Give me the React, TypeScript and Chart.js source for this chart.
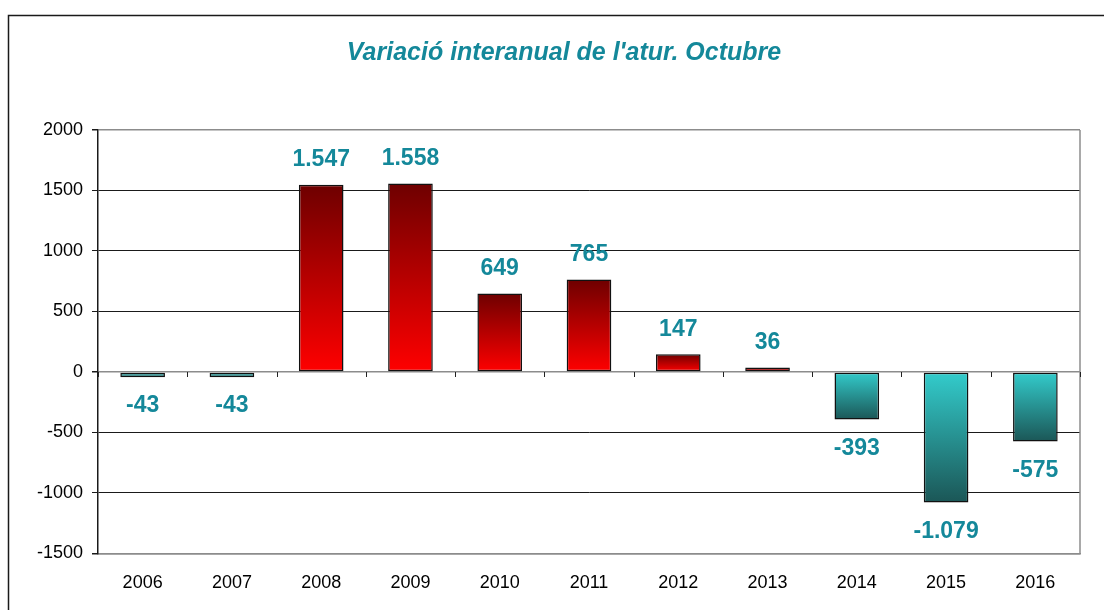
import React, { useEffect, useRef } from "react";
import { Chart, registerables } from "chart.js";

Chart.register(...registerables);

const categories = ["2006", "2007", "2008", "2009", "2010", "2011", "2012", "2013", "2014", "2015", "2016"];
const values = [-43, -43, 1547, 1558, 649, 765, 147, 36, -393, -1079, -575];
const yMin = -1500;
const yMax = 2000;
const yStep = 500;
const titleText = "Variació interanual de l'atur. Octubre";

const FONT = "'Liberation Sans', Arial, Helvetica, sans-serif";
const TEAL = "#14889a";

function fmt(v: number): string {
  const neg = v < 0;
  const s = Math.abs(v).toString();
  let out = "";
  for (let i = 0; i < s.length; i++) {
    const fromEnd = s.length - i;
    out += s[i];
    if (fromEnd > 1 && (fromEnd - 1) % 3 === 0) out += ".";
  }
  return (neg ? "-" : "") + out;
}

const decorPlugin = {
  id: "decor",
  beforeDraw(chart: any) {
    const c = chart.ctx;
    c.save();
    c.fillStyle = "#ffffff";
    c.fillRect(0, 0, chart.width, chart.height);
    c.strokeStyle = "#1a1a1a";
    c.lineWidth = 1.5;
    c.beginPath();
    c.moveTo(8.5, chart.height + 2);
    c.lineTo(8.5, 15.5);
    c.lineTo(chart.width + 2, 15.5);
    c.stroke();
    c.fillStyle = TEAL;
    c.font = `italic bold 25px ${FONT}`;
    c.textAlign = "center";
    c.textBaseline = "alphabetic";
    c.fillText(titleText, 564, 60);
    c.restore();
  },
  afterDraw(chart: any) {
    const c = chart.ctx;
    const a = chart.chartArea;
    const x = chart.scales.x;
    const y = chart.scales.y;
    c.save();
    c.strokeStyle = "#8c8c8c";
    c.lineWidth = 1.5;
    c.beginPath();
    c.moveTo(a.right, a.top);
    c.lineTo(a.right, a.bottom);
    c.stroke();
    const y0 = Math.round(y.getPixelForValue(0));
    const n = categories.length;
    const w = (x.right - x.left) / n;
    c.strokeStyle = "#222";
    c.lineWidth = 1;
    c.beginPath();
    for (let i = 0; i <= n; i++) {
      const px = Math.round(x.left + i * w) + 0.5;
      c.moveTo(px, y0);
      c.lineTo(px, y0 + 5);
    }
    c.stroke();
    c.restore();
  },
  afterDatasetsDraw(chart: any) {
    const c = chart.ctx;
    const meta = chart.getDatasetMeta(0);
    c.save();
    c.fillStyle = TEAL;
    c.font = `bold 23px ${FONT}`;
    c.textAlign = "center";
    c.textBaseline = "middle";
    meta.data.forEach((el: any, i: number) => {
      const v = values[i];
      const ty = v >= 0 ? el.y - 25 : el.y + 29;
      c.fillText(fmt(v), el.x, ty);
    });
    c.restore();
  },
};

export default function App() {
  const ref = useRef<HTMLCanvasElement | null>(null);
  useEffect(() => {
    if (!ref.current) return;
    const chart = new Chart(ref.current, {
      type: "bar",
      data: {
        labels: categories,
        datasets: [
          {
            data: values,
            backgroundColor: (ctx: any) => {
              const ch = ctx.chart;
              const area = ch.chartArea;
              const v = values[ctx.dataIndex];
              if (!area) return v >= 0 ? "#c00000" : "#2aa0a0";
              const ys = ch.scales.y;
              const p0 = ys.getPixelForValue(0);
              const p1 = ys.getPixelForValue(v);
              const top = Math.min(p0, p1);
              const bot = Math.max(p0, p1) + 0.01;
              const g = ch.ctx.createLinearGradient(0, top, 0, bot);
              if (v >= 0) {
                g.addColorStop(0, "#6e0000");
                g.addColorStop(1, "#ff0000");
              } else {
                g.addColorStop(0, "#33cccc");
                g.addColorStop(1, "#1b5656");
              }
              return g;
            },
            borderColor: "#111111",
            borderWidth: 1.5,
            borderSkipped: false,
            barPercentage: 0.5,
            categoryPercentage: 1,
          },
        ],
      },
      options: {
        animation: false,
        responsive: false,
        maintainAspectRatio: false,
        layout: { padding: { left: 20, right: 24, top: 130, bottom: -3 } },
        plugins: {
          legend: { display: false },
          tooltip: { enabled: false },
          title: { display: false },
        },
        scales: {
          x: {
            grid: { display: false, drawTicks: false },
            border: { display: true, color: "#8c8c8c", width: 1.5 },
            ticks: { color: "#000", font: { family: FONT, size: 18 }, padding: 19 },
          },
          y: {
            min: yMin,
            max: yMax,
            afterFit: (s: any) => {
              s.width = 78;
            },
            ticks: {
              stepSize: yStep,
              color: "#000",
              font: { family: FONT, size: 18 },
              padding: 9,
              callback: (v: any) => String(v),
            },
            grid: {
              color: (ctx: any) => {
                const v = ctx.tick ? ctx.tick.value : 0;
                if (v === 0 || v === yMax || v === yMin) return "#8c8c8c";
                return "#1a1a1a";
              },
              lineWidth: (ctx: any) => {
                const v = ctx.tick ? ctx.tick.value : 0;
                if (v === 0 || v === yMax || v === yMin) return 1.5;
                return 1;
              },
              tickColor: "#1a1a1a",
              tickLength: 6,
            },
            border: { display: true, color: "#1a1a1a", width: 1.5 },
          },
        },
      },
      plugins: [decorPlugin],
    });
    return () => chart.destroy();
  }, []);
  return (
    <div style={{ position: "absolute", left: 0, top: 0, width: 1104, height: 610 }}>
      <canvas ref={ref} width={1104} height={610} style={{ width: 1104, height: 610 }} />
    </div>
  );
}
